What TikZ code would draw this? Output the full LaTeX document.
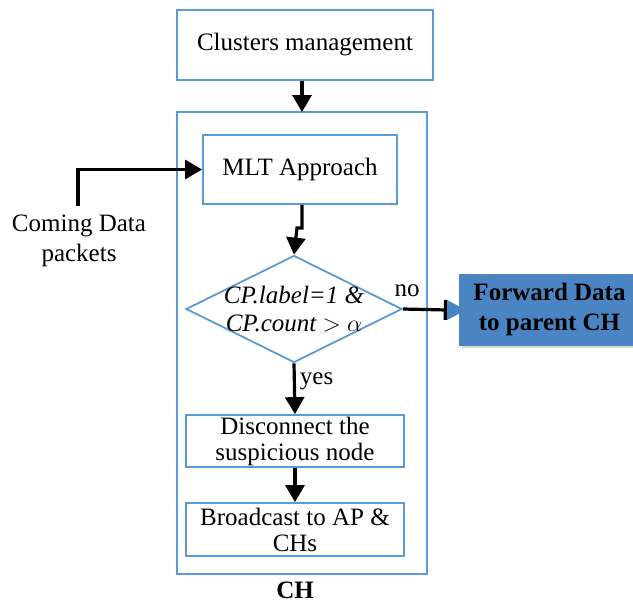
\documentclass[tikz,border=0pt]{standalone}
\usepackage{fontspec}
\setmainfont{Liberation Serif}
\usetikzlibrary{arrows.meta,shapes.geometric,shadows}
\definecolor{lineblue}{HTML}{5B9BD5}
\definecolor{fwdblue}{HTML}{4A84C2}
\tikzset{
  procbox/.style={draw=lineblue,line width=0.9pt,fill=white,align=center,inner sep=0pt},
  flow/.style={line width=1.6pt,-{Triangle[length=8.5pt,width=9.5pt]}},
  txt/.style={font=\fontsize{12.5}{16}\selectfont}
}
\begin{document}
\begin{tikzpicture}[x=0.5pt,y=-0.5pt,txt]
\useasboundingbox (0,0) rectangle (633,602);
% CH container
\draw[draw=lineblue,line width=0.9pt,fill=white] (177,112) rectangle (427,574);
\node[font=\fontsize{12.5}{16}\selectfont\bfseries] (chlabel) at (295,590) {CH};
% boxes
\node[procbox,minimum width=128pt,minimum height=35pt] (clusters) at (305,45) {Clusters management};
\node[procbox,minimum width=97pt,minimum height=34.5pt] (mlt) at (300,169.5) {MLT Approach};
\node[draw=lineblue,line width=0.9pt,fill=white,diamond,aspect=2.02,inner sep=-9pt,
      minimum width=108pt,minimum height=53.5pt,align=center] (check) at (294,309)
      {\itshape CP.label=1 \&\\[-2pt]\itshape CP.count $>$ $\alpha$};
\node[procbox,minimum width=109pt,minimum height=26pt] (disc) at (295,441)
      {Disconnect the\\[-3pt]suspicious node};
\node[procbox,minimum width=109pt,minimum height=26.5pt] (bcast) at (295,529.5)
      {Broadcast to AP \&\\[-3pt]CHs};
\node[fill=fwdblue,draw=fwdblue,drop shadow={shadow xshift=1pt,shadow yshift=-1.5pt,opacity=0.3},
      minimum width=90pt,minimum height=35.5pt,align=center,inner sep=0pt,
      font=\fontsize{12.5}{15}\selectfont\bfseries] (fwd) at (549.5,309.5)
      {Forward Data\\to parent CH};
\node[align=center] (coming) at (79,241) {Coming Data\\[-1pt]packets};
% connectors
\draw[flow] (clusters.south -| 302,0) -- (302,112);
\coordinate (jog) at (302,228);
\draw[flow] (mlt.south -| jog) -- (jog) -- ++(-5,0) -- (check.north);
\draw[flow] (coming.north -| 78,0) ++(0,-2) |- (mlt.west);
\draw[line width=1.6pt,-{Bar[width=10pt,line width=1.6pt]}] (check.east) -- (447,310);
\fill[fwdblue] (447,300) -- (466,310) -- (447,320) -- cycle;
\draw[flow] (check.south) -- (disc.north) node[pos=0.35,right,inner sep=2pt] {yes};
\draw[flow] (disc.south) -- (bcast.north);
\node[anchor=south] (nolabel) at (407,304) {no};
\end{tikzpicture}
\end{document}
